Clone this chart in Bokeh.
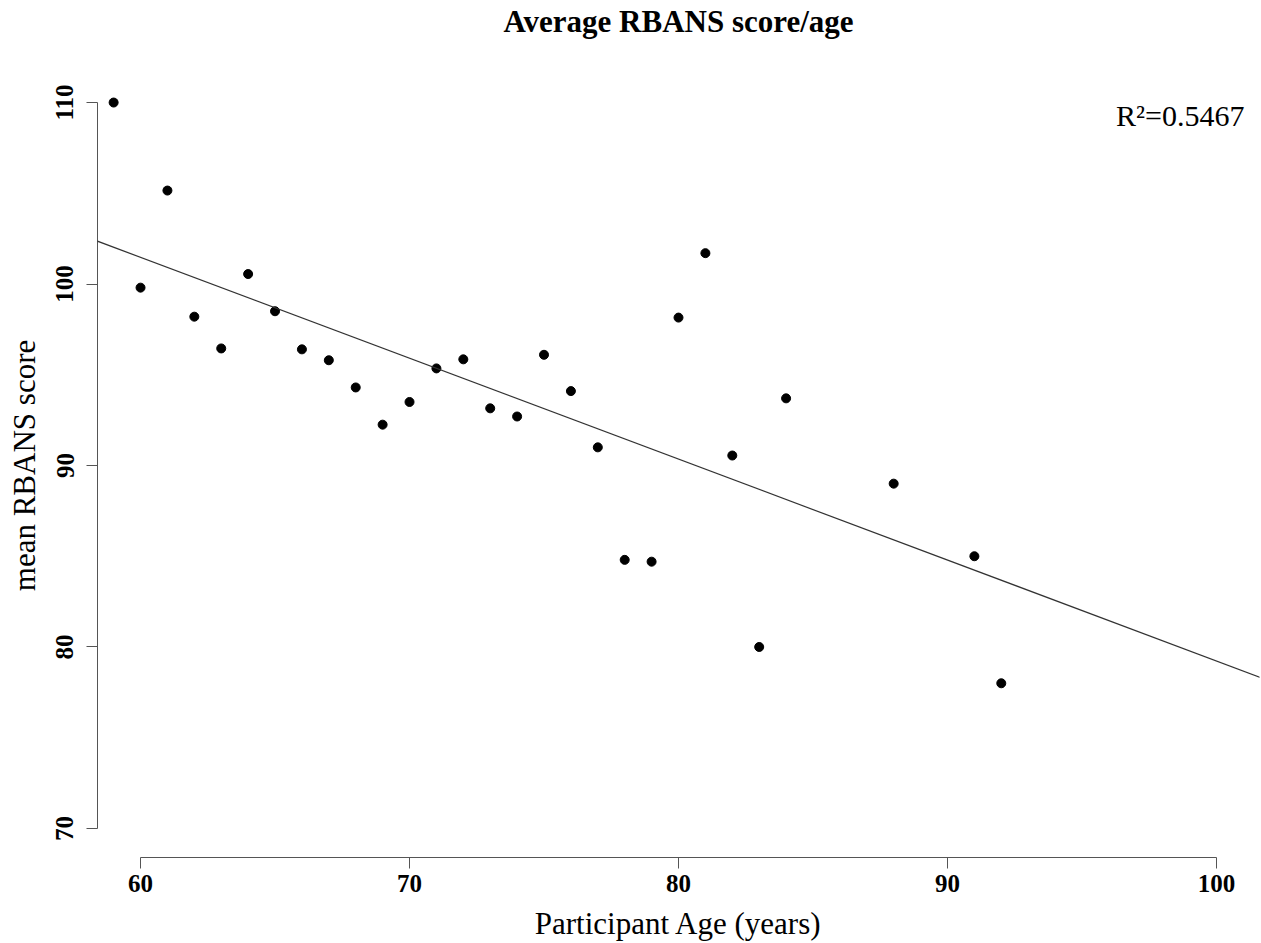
from bokeh.plotting import figure
from bokeh.models import Range1d, FixedTicker, Slope, Label
from bokeh.embed import file_html
from bokeh.resources import INLINE

# Data
ages = [59, 60, 61, 62, 63, 64, 65, 66, 67, 68, 69, 70, 71, 72, 73, 74, 75, 76,
        77, 78, 79, 80, 81, 82, 83, 84, 88, 91, 92]
scores = [110.0, 99.8, 105.15, 98.2, 96.45, 100.55, 98.5, 96.4, 95.8, 94.3, 92.25,
          93.5, 95.35, 95.85, 93.15, 92.7, 96.1, 94.1, 91.0, 84.8, 84.7, 98.15,
          101.7, 90.55, 80.0, 93.7, 89.0, 85.0, 78.0]
x_ticks = [60, 70, 80, 90, 100]
y_ticks = [70, 80, 90, 100, 110]
fit_intercept = 134.83
fit_slope = -0.556
title_text = "Average RBANS score/age"
r2_text = "R\u00b2=0.5467"

SERIF = "Liberation Serif"

p = figure(width=1261, height=943, output_backend="svg", toolbar_location=None,
           x_range=Range1d(58.4, 101.6), y_range=Range1d(68.4, 111.6),
           min_border_left=97, min_border_right=2, min_border_top=73,
           min_border_bottom=86)

# trailing empty line lifts the title towards the top of the page
p.title.text = title_text + "\n "
p.title.align = "center"
p.title.text_font = SERIF
p.title.text_font_size = "31px"
p.title.text_font_style = "bold"
p.title.text_color = "black"
p.title.text_line_height = 1.0
p.title.standoff = 0

p.grid.visible = False
p.outline_line_color = None

for ax, ticks, lab in ((p.xaxis[0], x_ticks, "Participant Age (years)"),
                       (p.yaxis[0], y_ticks, "mean RBANS score")):
    ax.ticker = FixedTicker(ticks=ticks)
    ax.bounds = (ticks[0], ticks[-1])
    ax.axis_line_color = "#555555"
    ax.axis_line_width = 1
    ax.major_tick_line_color = "#555555"
    ax.major_tick_out = 11
    ax.major_tick_in = 0
    ax.minor_tick_line_color = None
    ax.major_label_text_font = SERIF
    ax.major_label_text_font_size = "25px"
    ax.major_label_text_font_style = "bold"
    ax.major_label_text_color = "black"
    ax.axis_label = lab
    ax.axis_label_text_font = SERIF
    ax.axis_label_text_font_size = "31px"
    ax.axis_label_text_font_style = "normal"
    ax.axis_label_text_color = "black"

p.yaxis.major_label_orientation = "vertical"
p.xaxis.major_label_standoff = 6
p.yaxis.major_label_standoff = 13
p.xaxis.axis_label_standoff = 11
p.yaxis.axis_label_standoff = 12

p.add_layout(Slope(gradient=fit_slope, y_intercept=fit_intercept,
                   line_color="#333333", line_width=1.2))

p.scatter(ages, scores, size=9, color="black")

p.add_layout(Label(x=101.04, y=109.28, text=r2_text, text_align="right",
                   text_baseline="middle", text_font=SERIF,
                   text_font_size="30px", text_color="black"))

open("out.html", "w").write(file_html(p, INLINE))
